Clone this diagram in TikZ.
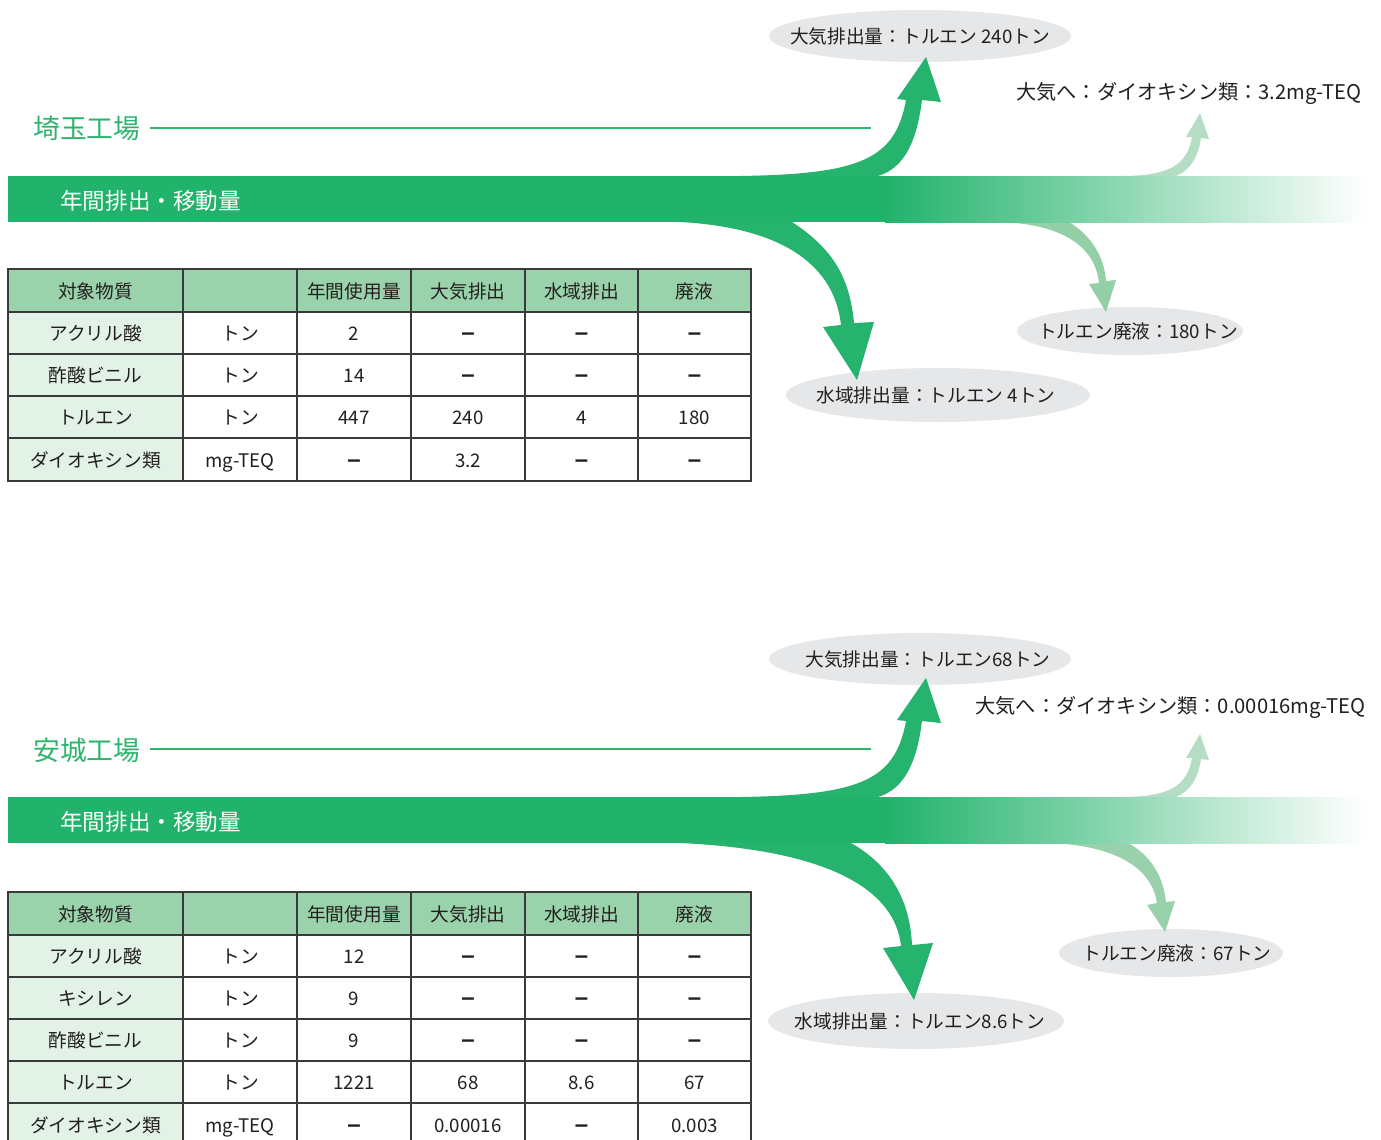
\documentclass[tikz,border=0pt]{standalone}
\usepackage{fontspec}
\setmainfont{Noto Sans CJK JP}
\newfontfamily\dashfont{Liberation Sans}
\usetikzlibrary{shapes.geometric}
\definecolor{bandgreen}{HTML}{21B26B}
\definecolor{arrowgreen}{HTML}{25B36D}
\definecolor{titlegreen}{HTML}{2DB56E}
\definecolor{lightup}{HTML}{B5DDC3}
\definecolor{lightdown}{HTML}{93CFA7}
\definecolor{bubblegray}{HTML}{E6E7E9}
\definecolor{hdr}{HTML}{9AD3AB}
\definecolor{firstcol}{HTML}{E2F2E7}
\definecolor{gridc}{HTML}{3A3A3A}
\definecolor{txt}{HTML}{231F20}
\newcommand\nil{{\dashfont\bfseries\fontsize{24}{24}\selectfont –}}
\tikzset{
  bubbletext/.style={inner sep=0pt, text=txt, font=\fontsize{18.7}{21}\selectfont},
  cell/.style={text=txt, font=\fontsize{18.7}{21}\selectfont, inner sep=0pt, text height=16.5pt, text depth=1pt},
  plaintext/.style={text=txt, font=\fontsize{20.2}{23}\selectfont, inner sep=0pt},
  titletext/.style={text=titlegreen, font=\fontsize{26.8}{30}\selectfont, anchor=west, inner sep=0pt},
  bandtext/.style={text=white, font=\fontsize{22.6}{25}\selectfont, anchor=west, inner sep=0pt},
  titleline/.style={draw=titlegreen, line width=1.3},
  gridline/.style={draw=gridc, line width=1.1},
}
\begin{document}
\begin{tikzpicture}[x=1pt,y=-1pt]
\useasboundingbox[fill=white] (0,0) rectangle (1381,1140);

% ================= Section 1 : 埼玉工場 =================
\node[titletext] (t1) at (33,128) {埼玉工場};
\coordinate (l1s) at (150,128);
\coordinate (l1e) at (871,128);
\draw[titleline] (l1s) -- (l1e);

\fill[bubblegray] (920,36) ellipse [x radius=151pt, y radius=26pt];
\node[bubbletext] (a1) at (920,36) {大気排出量：トルエン 240トン};
\fill[bubblegray] (938,395) ellipse [x radius=152pt, y radius=27pt];
\node[bubbletext] (w1) at (936,395) {水域排出量：トルエン 4トン};
\fill[bubblegray] (1130,331) ellipse [x radius=113pt, y radius=24pt];
\node[bubbletext] (d1) at (1138,331) {トルエン廃液：180トン};
\node[plaintext, anchor=east] (x1) at (1362,93) {大気へ：ダイオキシン類：3.2mg-TEQ};

% arrows (section 1)
\fill[arrowgreen] (740,176) .. controls (860,174) and (895,160) .. (906,100)
  -- (897,99) -- (926,57) coordinate (a1tip) -- (941,102) -- (922,100)
  .. controls (917,140) and (905,168) .. (878,176) -- cycle;
\fill[lightup] (1120,176) .. controls (1170,176) and (1187,165) .. (1192,137)
  -- (1186,137) -- (1200,113) coordinate (x1tip) -- (1209,139) -- (1201,138)
  .. controls (1198,158) and (1190,170) .. (1176,176) -- cycle;
\fill[arrowgreen] (680,222) .. controls (790,228) and (835,270) .. (841,325)
  -- (823,327) -- (857,380) coordinate (w1tip) -- (874,322) -- (854,323)
  .. controls (850,280) and (835,250) .. (792,222) -- cycle;
\fill[lightdown] (1000,222) .. controls (1060,224) and (1095,245) .. (1099,283)
  -- (1089,284) -- (1106,312) coordinate (d1tip) -- (1116,280) -- (1106,281)
  .. controls (1104,255) and (1090,235) .. (1069,222) -- cycle;

% band
\fill[bandgreen] (8,176) rectangle (886,222);
\shade[left color=bandgreen, right color=white] (885,176) rectangle (1366,222);
\node[bandtext] (b1) at (60,201) {年間排出・移動量};

% table 1
\fill[hdr] (8,269) rectangle (751,312);
\fill[firstcol] (8,312) rectangle (183,481);
\foreach \x in {183,297,411,525,638} \draw[gridline] (\x,269) -- (\x,481);
\foreach \y in {312,354,396,438} \draw[gridline] (8,\y) -- (751,\y);
\draw[gridline, line width=1.4] (8,269) rectangle (751,481);

\node[cell] (p1h1) at (95.5,290.5) {対象物質};
\node[cell] (p1h3) at (354,290.5) {年間使用量};
\node[cell] (p1h4) at (468,290.5) {大気排出};
\node[cell] (p1h5) at (581.5,290.5) {水域排出};
\node[cell] (p1h6) at (694.5,290.5) {廃液};

\node[cell] (p1r1c1) at (95.5,333) {アクリル酸};
\node[cell] (p1r1c2) at (240,333) {トン};
\node[cell] (p1r1c3) at (354,333) {2};
\node[cell] (p1r1c4) at (468,333) {\nil};
\node[cell] (p1r1c5) at (581.5,333) {\nil};
\node[cell] (p1r1c6) at (694.5,333) {\nil};

\node[cell] (p1r2c1) at (95.5,375) {酢酸ビニル};
\node[cell] (p1r2c2) at (240,375) {トン};
\node[cell] (p1r2c3) at (354,375) {14};
\node[cell] (p1r2c4) at (468,375) {\nil};
\node[cell] (p1r2c5) at (581.5,375) {\nil};
\node[cell] (p1r2c6) at (694.5,375) {\nil};

\node[cell] (p1r3c1) at (95.5,417) {トルエン};
\node[cell] (p1r3c2) at (240,417) {トン};
\node[cell] (p1r3c3) at (354,417) {447};
\node[cell] (p1r3c4) at (468,417) {240};
\node[cell] (p1r3c5) at (581.5,417) {4};
\node[cell] (p1r3c6) at (694.5,417) {180};

\node[cell] (p1r4c1) at (95.5,459.5) {ダイオキシン類};
\node[cell] (p1r4c2) at (240,459.5) {mg-TEQ};
\node[cell] (p1r4c3) at (354,459.5) {\nil};
\node[cell] (p1r4c4) at (468,459.5) {3.2};
\node[cell] (p1r4c5) at (581.5,459.5) {\nil};
\node[cell] (p1r4c6) at (694.5,459.5) {\nil};

% ================= Section 2 : 安城工場 =================
\node[titletext] (t2) at (33,750) {安城工場};
\coordinate (l2s) at (150,749);
\coordinate (l2e) at (871,749);
\draw[titleline] (l2s) -- (l2e);

\fill[bubblegray] (920,659) ellipse [x radius=151pt, y radius=26pt];
\node[bubbletext] (a2) at (928,659) {大気排出量：トルエン68トン};
\fill[bubblegray] (916,1021) ellipse [x radius=148pt, y radius=28pt];
\node[bubbletext] (w2) at (920,1021) {水域排出量：トルエン8.6トン};
\fill[bubblegray] (1171,953) ellipse [x radius=112pt, y radius=24pt];
\node[bubbletext] (d2) at (1177,953) {トルエン廃液：67トン};
\node[plaintext, anchor=east] (x2) at (1366,707) {大気へ：ダイオキシン類：0.00016mg-TEQ};

\begin{scope}[shift={(0,621)}]
\fill[arrowgreen] (740,176) .. controls (860,174) and (895,160) .. (906,100)
  -- (897,99) -- (926,57) coordinate (a2tip) -- (941,102) -- (922,100)
  .. controls (917,140) and (905,168) .. (878,176) -- cycle;
\fill[lightup] (1120,176) .. controls (1170,176) and (1187,165) .. (1192,137)
  -- (1186,137) -- (1200,113) coordinate (x2tip) -- (1209,139) -- (1201,138)
  .. controls (1198,158) and (1190,170) .. (1176,176) -- cycle;
\end{scope}
\fill[arrowgreen] (680,843) .. controls (830,850) and (895,890) .. (901,946)
  -- (883,948) -- (914,1000) coordinate (w2tip) -- (933,943) -- (912,945)
  .. controls (910,900) and (890,865) .. (851,843) -- cycle;
\fill[lightdown!85!lightup] (1050,843) .. controls (1120,846) and (1152,870) .. (1157,903)
  -- (1147,905) -- (1165,932) coordinate (d2tip) -- (1175,901) -- (1166,902)
  .. controls (1163,875) and (1150,855) .. (1128,843) -- cycle;

\fill[bandgreen] (8,797) rectangle (886,843);
\shade[left color=bandgreen, right color=white] (885,797) rectangle (1366,843);
\node[bandtext] (b2) at (60,822) {年間排出・移動量};

% table 2
\fill[hdr] (8,892) rectangle (751,935);
\fill[firstcol] (8,935) rectangle (183,1145);
\foreach \x in {183,297,411,525,638} \draw[gridline] (\x,892) -- (\x,1145);
\foreach \y in {935,977,1019,1061,1103} \draw[gridline] (8,\y) -- (751,\y);
\draw[gridline, line width=1.4] (8,1145) -- (8,892) -- (751,892) -- (751,1145);

\node[cell] (p2h1) at (95.5,913.5) {対象物質};
\node[cell] (p2h3) at (354,913.5) {年間使用量};
\node[cell] (p2h4) at (468,913.5) {大気排出};
\node[cell] (p2h5) at (581.5,913.5) {水域排出};
\node[cell] (p2h6) at (694.5,913.5) {廃液};

\node[cell] (p2r1c1) at (95.5,956) {アクリル酸};
\node[cell] (p2r1c2) at (240,956) {トン};
\node[cell] (p2r1c3) at (354,956) {12};
\node[cell] (p2r1c4) at (468,956) {\nil};
\node[cell] (p2r1c5) at (581.5,956) {\nil};
\node[cell] (p2r1c6) at (694.5,956) {\nil};

\node[cell] (p2r2c1) at (95.5,998) {キシレン};
\node[cell] (p2r2c2) at (240,998) {トン};
\node[cell] (p2r2c3) at (354,998) {9};
\node[cell] (p2r2c4) at (468,998) {\nil};
\node[cell] (p2r2c5) at (581.5,998) {\nil};
\node[cell] (p2r2c6) at (694.5,998) {\nil};

\node[cell] (p2r3c1) at (95.5,1040) {酢酸ビニル};
\node[cell] (p2r3c2) at (240,1040) {トン};
\node[cell] (p2r3c3) at (354,1040) {9};
\node[cell] (p2r3c4) at (468,1040) {\nil};
\node[cell] (p2r3c5) at (581.5,1040) {\nil};
\node[cell] (p2r3c6) at (694.5,1040) {\nil};

\node[cell] (p2r4c1) at (95.5,1082) {トルエン};
\node[cell] (p2r4c2) at (240,1082) {トン};
\node[cell] (p2r4c3) at (354,1082) {1221};
\node[cell] (p2r4c4) at (468,1082) {68};
\node[cell] (p2r4c5) at (581.5,1082) {8.6};
\node[cell] (p2r4c6) at (694.5,1082) {67};

\node[cell] (p2r5c1) at (95.5,1124.5) {ダイオキシン類};
\node[cell] (p2r5c2) at (240,1124.5) {mg-TEQ};
\node[cell] (p2r5c3) at (354,1124.5) {\nil};
\node[cell] (p2r5c4) at (468,1124.5) {0.00016};
\node[cell] (p2r5c5) at (581.5,1124.5) {\nil};
\node[cell] (p2r5c6) at (694.5,1124.5) {0.003};
\end{tikzpicture}
\end{document}
